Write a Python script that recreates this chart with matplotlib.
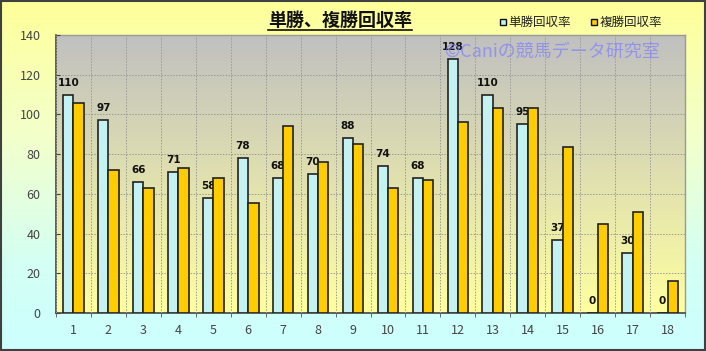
import numpy as np
import matplotlib
matplotlib.use("Agg")
import matplotlib.pyplot as plt
from matplotlib.colors import LinearSegmentedColormap
from matplotlib.patches import Rectangle

plt.rcParams['font.family'] = ['Noto Sans CJK JP', 'DejaVu Sans']

# --- data ---
categories = list(range(1, 19))
tansho = [110, 97, 66, 71, 58, 78, 68, 70, 88, 74, 68, 128, 110, 95, 37, 0, 30, 0]
fukusho = [105.6, 72, 63, 73, 68, 55.6, 94, 76, 85, 63, 67, 96, 103, 103, 83.5, 45, 51, 16]
title = "単勝、複勝回収率"
series_names = ["単勝回収率", "複勝回収率"]
watermark = "©Caniの競馬データ研究室"
yticks = list(range(0, 141, 20))

fig = plt.figure(figsize=(7.06, 3.51), dpi=100)

# figure background gradient (yellow top -> cyan bottom)
bg = fig.add_axes([0, 0, 1, 1], zorder=-10)
bg_cmap = LinearSegmentedColormap.from_list(
    "bg", [(0.0, "#CCFFFF"), (0.25, "#D4FFF4"), (0.6, "#F2FFCC"), (1.0, "#FFFF99")])
bg.imshow(np.linspace(0, 1, 256).reshape(-1, 1), aspect="auto", cmap=bg_cmap,
          origin="lower", extent=[0, 1, 0, 1])
bg.set_xlim(0, 1); bg.set_ylim(0, 1)
bg.axis("off")
bg.add_patch(Rectangle((0.001, 0.002), 0.997, 0.995, fill=False, ec="#404040", lw=1.5))

ax = fig.add_axes([56 / 706, 38 / 351, 629 / 706, 278 / 351])
ax.set_facecolor("none")

# plot area gradient (grey top -> light yellow bottom)
pa_cmap = LinearSegmentedColormap.from_list("pa", ["#FFFFA0", "#C0C0C0"])
ax.imshow(np.linspace(0, 1, 256).reshape(-1, 1), aspect="auto", cmap=pa_cmap,
          origin="lower", extent=[0.5, 18.5, 0, 140], zorder=0)

x = np.arange(1, 19)
w = 0.295
ax.bar(x - w / 2, tansho, w, color="#C4F2F2", edgecolor="#222222", lw=1.2, zorder=3)
ax.bar(x + w / 2, fukusho, w, color="#FFCC00", edgecolor="#222222", lw=1.2, zorder=5)

for xi, v in zip(x, tansho):
    ax.annotate(f"{v}", (xi - w / 2, v), xytext=(0, 5), textcoords="offset points",
                ha="center", va="bottom", fontsize=7.5, fontweight="bold",
                color="#111111", zorder=4, family=["DejaVu Sans"])

ax.set_xlim(0.5, 18.5)
ax.set_ylim(0, 140)
ax.set_yticks(yticks)
ax.set_xticks(x)
ax.set_xticklabels([str(c) for c in categories])
ax.set_xticks(np.arange(0.5, 18.6, 1), minor=True)
ax.tick_params(axis="x", which="major", length=0, pad=8, labelsize=9, colors="#444444")
ax.tick_params(axis="x", which="minor", length=3, direction="out", color="#555555")
ax.tick_params(axis="y", length=3, direction="in", labelsize=9, colors="#444444", pad=11)
ax.grid(axis="y", which="major", ls=(0, (1.5, 1.5)), color="#999999", lw=0.7, zorder=1)
ax.grid(axis="x", which="minor", ls=(0, (1.5, 1.5)), color="#999999", lw=0.7, zorder=1)
ax.set_axisbelow(False)
for s in ["left", "bottom"]:
    ax.spines[s].set_color("#444444"); ax.spines[s].set_linewidth(1.2)
for s in ["top", "right"]:
    ax.spines[s].set_color("#999999"); ax.spines[s].set_linewidth(1.0)

# title with underline
fig.text(340 / 706, 1 - 20 / 351, title, ha="center", va="center",
         fontsize=13, fontweight="bold", color="#111111")
bg.plot([268 / 706, 412 / 706], [1 - 30 / 351, 1 - 30 / 351], color="#111111", lw=1.2)

# legend
for sx, tx, name, col in [(503, 508, series_names[0], "#C4F2F2"),
                          (594, 600, series_names[1], "#FFCC00")]:
    bg.add_patch(Rectangle(((sx - 3) / 706, 1 - 25 / 351), 6 / 706, 6 / 351,
                           fc=col, ec="#111111", lw=1.0))
    fig.text(tx / 706, 1 - 22 / 351, name, ha="left", va="center", fontsize=9,
             color="#222222")

# watermark
fig.text(552 / 706, 1 - 52 / 351, watermark, ha="center", va="center",
         fontsize=13, color="#8080FF", alpha=0.7, zorder=20)

fig.savefig("out.png", dpi=100)
